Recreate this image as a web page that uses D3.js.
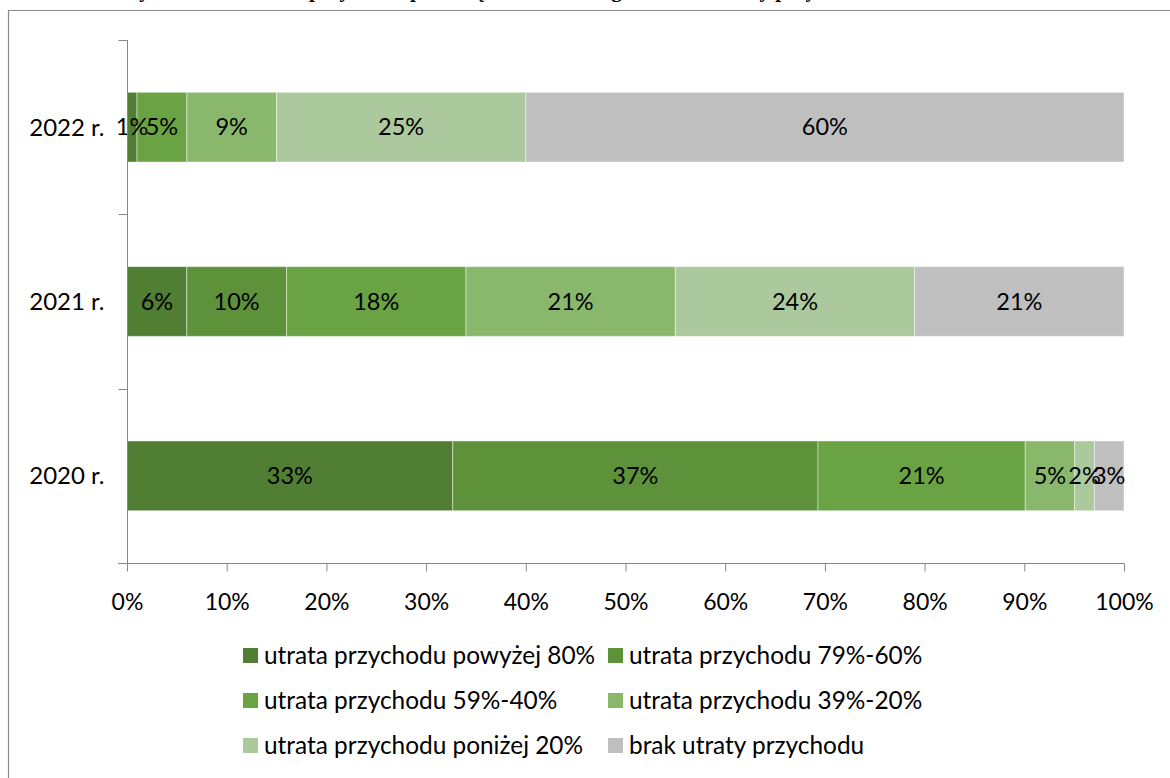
<!DOCTYPE html>
<html>
<head>
<meta charset="utf-8">
<script src="https://cdn.jsdelivr.net/npm/d3@7"></script>
<style>
  html, body { margin: 0; padding: 0; background: #fff; }
  svg { display: block; }
</style>
</head>
<body>
<div id="chart"></div>
<script>
// Years shown as bars, top to bottom
const categories = ["2022 r.", "2021 r.", "2020 r."];

// Revenue-loss classes (stack order, left to right)
const seriesNames = [
  "utrata przychodu powyżej 80%",
  "utrata przychodu 79%-60%",
  "utrata przychodu 59%-40%",
  "utrata przychodu 39%-20%",
  "utrata przychodu poniżej 20%",
  "brak utraty przychodu"
];

// Share of firms in each class, per year (same order as categories)
const lossOver80   = [1, 6, 33];
const loss79to60   = [0, 10, 37];
const loss59to40   = [5, 18, 21];
const loss39to20   = [9, 21, 5];
const lossUnder20  = [25, 24, 2];
const noLoss       = [60, 21, 3];

const xTicks = [0, 0.1, 0.2, 0.3, 0.4, 0.5, 0.6, 0.7, 0.8, 0.9, 1.0];

const colors = ["#507e32", "#5d923a", "#69a343", "#89b86d", "#abc99d", "#bfbfbf"];

const seriesValues = [lossOver80, loss79to60, loss59to40, loss39to20, lossUnder20, noLoss];
const rows = categories.map((c, i) => {
  const r = { category: c };
  seriesNames.forEach((s, k) => { r[s] = seriesValues[k][i]; });
  return r;
});

const W = 1170, H = 778;
const svg = d3.select("#chart").append("svg").attr("width", W).attr("height", H);
const FONT = "Lato, 'Noto Sans', sans-serif";

// outer chart frame (runs past the right and bottom edges)
svg.append("path")
  .attr("d", `M8.5,${H + 5} V10.5 H${W + 5}`)
  .attr("fill", "none").attr("stroke", "#8a8a8a").attr("stroke-width", 1.2);

// heading sits above the frame, scrolled mostly out of view
svg.append("text")
  .attr("x", 585).attr("y", -3.5)
  .attr("text-anchor", "middle")
  .attr("font-family", "'Liberation Serif', serif")
  .attr("font-weight", "bold").attr("font-size", 21)
  .text("Wykres 9. Struktura przychodu przedsiębiorstw według wielkości utraty przychodu w latach 2020–2022");

const x = d3.scaleLinear().domain([0, 1]).range([127, 1124]);
const y = d3.scaleBand().domain(categories).range([40, 563]).paddingInner(0.6).paddingOuter(0.3);

const stack = d3.stack().keys(seriesNames).offset(d3.stackOffsetExpand);
const stacked = stack(rows);

// bar segments
const g = svg.append("g");
stacked.forEach((layer, k) => {
  g.selectAll(null).data(layer).enter().append("rect")
    .attr("x", d => x(d[0]))
    .attr("y", d => y(d.data.category))
    .attr("width", d => x(d[1]) - x(d[0]))
    .attr("height", y.bandwidth())
    .attr("fill", colors[k])
    .attr("stroke", "rgba(255,255,255,0.45)")
    .attr("stroke-width", 1);
});

// value labels
stacked.forEach((layer, k) => {
  g.selectAll(null).data(layer.filter(d => d.data[seriesNames[k]] > 0)).enter().append("text")
    .attr("x", d => (x(d[0]) + x(d[1])) / 2)
    .attr("y", d => y(d.data.category) + y.bandwidth() / 2)
    .attr("dy", "0.35em")
    .attr("text-anchor", "middle")
    .attr("font-family", FONT).attr("font-size", 23.5)
    .attr("fill", "#000")
    .text(d => d.data[seriesNames[k]] + "%");
});

// axes
const axisColor = "#868686";
const xAxis = svg.append("g").attr("transform", "translate(0,563.5)")
  .call(d3.axisBottom(x).tickValues(xTicks).tickFormat(d3.format(".0%")).tickSize(8).tickSizeOuter(0));
xAxis.select(".domain").remove();
xAxis.append("line").attr("x1", 118).attr("x2", 1124).attr("stroke", axisColor);
xAxis.selectAll(".tick line").attr("stroke", axisColor);
xAxis.selectAll(".tick text")
  .attr("font-family", FONT).attr("font-size", 23).attr("fill", "#000").attr("dy", "1.55em");

const yAxisG = svg.append("g").attr("transform", "translate(127.5,0)");
yAxisG.append("line").attr("y1", 40).attr("y2", 563).attr("stroke", axisColor);
const bounds = categories.map(c => y(c) - y.step() * y.paddingInner() / 2).concat([563]);
yAxisG.selectAll(null).data(bounds).enter().append("line")
  .attr("x1", -9).attr("x2", 0)
  .attr("y1", d => Math.round(d) + 0.5).attr("y2", d => Math.round(d) + 0.5)
  .attr("stroke", axisColor);
yAxisG.selectAll(null).data(categories).enter().append("text")
  .attr("x", -23)
  .attr("y", d => y(d) + y.bandwidth() / 2)
  .attr("dy", "0.35em")
  .attr("text-anchor", "end")
  .attr("font-family", FONT).attr("font-size", 24).attr("fill", "#000")
  .text(d => d);

// legend: two columns, three rows
const legendCols = [243, 608];
const legendRows = [655, 700, 745];
const lg = svg.append("g");
seriesNames.forEach((s, k) => {
  const lx = legendCols[k % 2], ly = legendRows[Math.floor(k / 2)];
  lg.append("rect").attr("x", lx).attr("y", ly - 7).attr("width", 15).attr("height", 15).attr("fill", colors[k]);
  lg.append("text").attr("x", lx + 21).attr("y", ly).attr("dy", "0.35em")
    .attr("font-family", FONT).attr("font-size", 24.4).attr("fill", "#000").text(s);
});
</script>
</body>
</html>
